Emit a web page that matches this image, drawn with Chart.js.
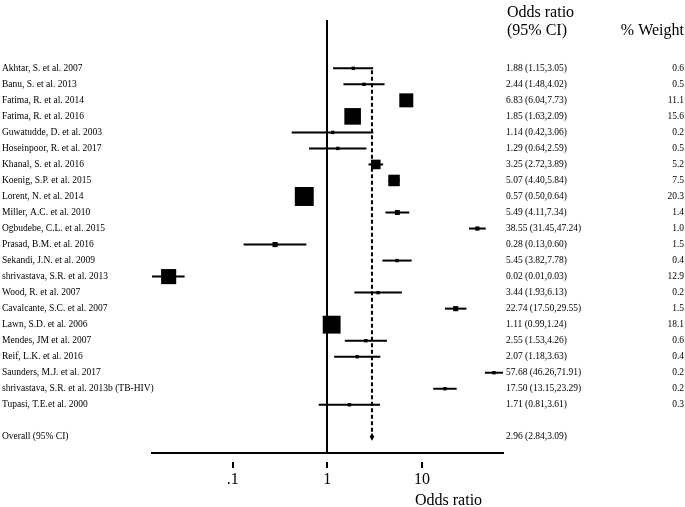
<!DOCTYPE html>
<html>
<head>
<meta charset="utf-8">
<script src="https://cdn.jsdelivr.net/npm/chart.js@4.4.1/dist/chart.umd.min.js"></script>
<style>
html,body{margin:0;padding:0;background:#fff;}
canvas{display:block;}
</style>
</head>
<body>
<canvas id="c" width="685" height="507"></canvas>
<script>
const studies = [
  "Akhtar, S. et al. 2007","Banu, S. et al. 2013","Fatima, R. et al. 2014","Fatima, R. et al. 2016",
  "Guwatudde, D. et al. 2003","Hoseinpoor, R. et al. 2017","Khanal, S. et al. 2016","Koenig, S.P. et al. 2015",
  "Lorent, N. et al. 2014","Miller, A.C. et al. 2010","Ogbudebe, C.L. et al. 2015","Prasad, B.M. et al. 2016",
  "Sekandi, J.N. et al. 2009","shrivastava, S.R. et al. 2013","Wood, R. et al. 2007","Cavalcante, S.C. et al. 2007",
  "Lawn, S.D. et al. 2006","Mendes, JM et al. 2007","Reif, L.K. et al. 2016","Saunders, M.J. et al. 2017",
  "shrivastava, S.R. et al. 2013b (TB-HIV)","Tupasi, T.E.et al. 2000"
];
const oddsRatio = [1.88,2.44,6.83,1.85,1.14,1.29,3.25,5.07,0.57,5.49,38.55,0.28,5.45,0.021,3.44,22.74,1.11,2.55,2.07,57.68,17.50,1.71];
const ciLower   = [1.15,1.48,6.04,1.63,0.42,0.64,2.72,4.40,0.50,4.11,31.45,0.13,3.82,0.014,1.93,17.50,0.99,1.53,1.18,46.26,13.15,0.81];
const ciUpper   = [3.05,4.02,7.73,2.09,3.06,2.59,3.89,5.84,0.64,7.34,47.24,0.60,7.78,0.031,6.13,29.55,1.24,4.26,3.63,71.91,23.29,3.61];
const weights   = [0.6,0.5,11.1,15.6,0.2,0.5,5.2,7.5,20.3,1.4,1.0,1.5,0.4,12.9,0.2,1.5,18.1,0.6,0.4,0.2,0.2,0.3];
const estLabels = [
  "1.88 (1.15,3.05)","2.44 (1.48,4.02)","6.83 (6.04,7.73)","1.85 (1.63,2.09)","1.14 (0.42,3.06)","1.29 (0.64,2.59)",
  "3.25 (2.72,3.89)","5.07 (4.40,5.84)","0.57 (0.50,0.64)","5.49 (4.11,7.34)","38.55 (31.45,47.24)","0.28 (0.13,0.60)",
  "5.45 (3.82,7.78)","0.02 (0.01,0.03)","3.44 (1.93,6.13)","22.74 (17.50,29.55)","1.11 (0.99,1.24)","2.55 (1.53,4.26)",
  "2.07 (1.18,3.63)","57.68 (46.26,71.91)","17.50 (13.15,23.29)","1.71 (0.81,3.61)"
];
const weightLabels = ["0.6","0.5","11.1","15.6","0.2","0.5","5.2","7.5","20.3","1.4","1.0","1.5","0.4","12.9","0.2","1.5","18.1","0.6","0.4","0.2","0.2","0.3"];
const overallLabel = "Overall (95% CI)";
const overall = {or: 2.96, lo: 2.84, hi: 3.09, text: "2.96 (2.84,3.09)"};
const tickValues = [0.1, 1, 10];
const tickLabels = [".1", "1", "10"];
const overallRow = studies.length + 1;

const SERIF = '"Liberation Serif", "Times New Roman", serif';

const forestPlugin = {
  id: 'forest',
  beforeDatasetsDraw(chart) {
    const ctx = chart.ctx, xs = chart.scales.x, ys = chart.scales.y, ca = chart.chartArea;
    ctx.save();
    ctx.strokeStyle = '#000';
    ctx.lineCap = 'butt';
    // null line at OR = 1
    ctx.lineWidth = 2;
    const x1 = Math.round(xs.getPixelForValue(1));
    ctx.beginPath(); ctx.moveTo(x1, ca.top); ctx.lineTo(x1, ca.bottom); ctx.stroke();
    // dashed overall line
    const xo = xs.getPixelForValue(overall.or);
    ctx.setLineDash([4, 2.5]);
    ctx.beginPath(); ctx.moveTo(xo, ys.getPixelForValue(0) + 2); ctx.lineTo(xo, ys.getPixelForValue(overallRow) - 4); ctx.stroke();
    ctx.setLineDash([]);
    // CI lines
    ctx.lineWidth = 2;
    for (let i = 0; i < studies.length; i++) {
      const y = ys.getPixelForValue(i);
      ctx.beginPath();
      ctx.moveTo(xs.getPixelForValue(ciLower[i]), y);
      ctx.lineTo(xs.getPixelForValue(ciUpper[i]), y);
      ctx.stroke();
    }
    // overall diamond
    const yo = ys.getPixelForValue(overallRow);
    ctx.fillStyle = '#000';
    ctx.beginPath();
    ctx.moveTo(xs.getPixelForValue(overall.lo) - 0.5, yo);
    ctx.lineTo(xo, yo - 4);
    ctx.lineTo(xs.getPixelForValue(overall.hi) + 0.5, yo);
    ctx.lineTo(xo, yo + 4);
    ctx.closePath(); ctx.fill();
    ctx.restore();
  },
  afterDraw(chart) {
    const ctx = chart.ctx, xs = chart.scales.x, ys = chart.scales.y, ca = chart.chartArea;
    ctx.save();
    // detached tick marks
    ctx.strokeStyle = '#000'; ctx.lineWidth = 2;
    tickValues.forEach(v => {
      const x = Math.round(xs.getPixelForValue(v));
      ctx.beginPath(); ctx.moveTo(x, ca.bottom + 9); ctx.lineTo(x, ca.bottom + 15); ctx.stroke();
    });
    ctx.fillStyle = '#000';
    // study names
    ctx.font = '9.5px ' + SERIF;
    ctx.textBaseline = 'middle';
    ctx.textAlign = 'left';
    studies.forEach((s, i) => ctx.fillText(s, 2, ys.getPixelForValue(i)));
    ctx.fillText(overallLabel, 2, ys.getPixelForValue(overallRow));
    // estimates
    estLabels.forEach((s, i) => ctx.fillText(s, 506, ys.getPixelForValue(i)));
    ctx.fillText(overall.text, 506, ys.getPixelForValue(overallRow));
    // weights
    ctx.textAlign = 'right';
    weightLabels.forEach((s, i) => ctx.fillText(s, 684, ys.getPixelForValue(i)));
    // headers
    ctx.font = '16px ' + SERIF;
    ctx.textBaseline = 'alphabetic';
    ctx.textAlign = 'left';
    ctx.fillText('Odds ratio', 507, 17);
    ctx.fillText('(95% CI)', 507, 35);
    ctx.textAlign = 'right';
    ctx.fillText('% Weight', 684, 35);
    // x axis title
    ctx.textAlign = 'left';
    ctx.fillText('Odds ratio', 415, 505);
    ctx.restore();
  }
};

new Chart(document.getElementById('c'), {
  type: 'scatter',
  data: {
    datasets: [{
      data: oddsRatio.map((v, i) => ({x: v, y: i})),
      pointStyle: 'rect',
      backgroundColor: '#000',
      borderWidth: 0,
      pointRadius: ctx => Math.max(4.2 * Math.sqrt(weights[ctx.dataIndex]), 3.4) / Math.SQRT2,
      pointHoverRadius: ctx => Math.max(4.2 * Math.sqrt(weights[ctx.dataIndex]), 3.4) / Math.SQRT2
    }]
  },
  options: {
    responsive: false,
    devicePixelRatio: 1,
    animation: false,
    events: [],
    layout: {padding: {left: 152, right: 182, top: 20, bottom: 0}},
    plugins: {legend: {display: false}, tooltip: {enabled: false}},
    scales: {
      x: {
        type: 'logarithmic',
        min: 0.014,
        max: 71.91,
        afterBuildTicks: s => { s.ticks = tickValues.map(v => ({value: v})); },
        afterFit: s => { s.height = 54; },
        grid: {display: true, drawOnChartArea: false, drawTicks: false},
        border: {display: true, color: '#000', width: 2},
        ticks: {
          autoSkip: false,
          maxRotation: 0,
          padding: 17,
          color: '#000',
          font: {family: SERIF, size: 16},
          callback: v => { const k = tickValues.indexOf(v); return k >= 0 ? tickLabels[k] : ''; }
        }
      },
      y: {
        type: 'linear',
        reverse: true,
        min: -3.015,
        max: 24.01,
        display: false
      }
    }
  },
  plugins: [forestPlugin]
});
</script>
</body>
</html>
